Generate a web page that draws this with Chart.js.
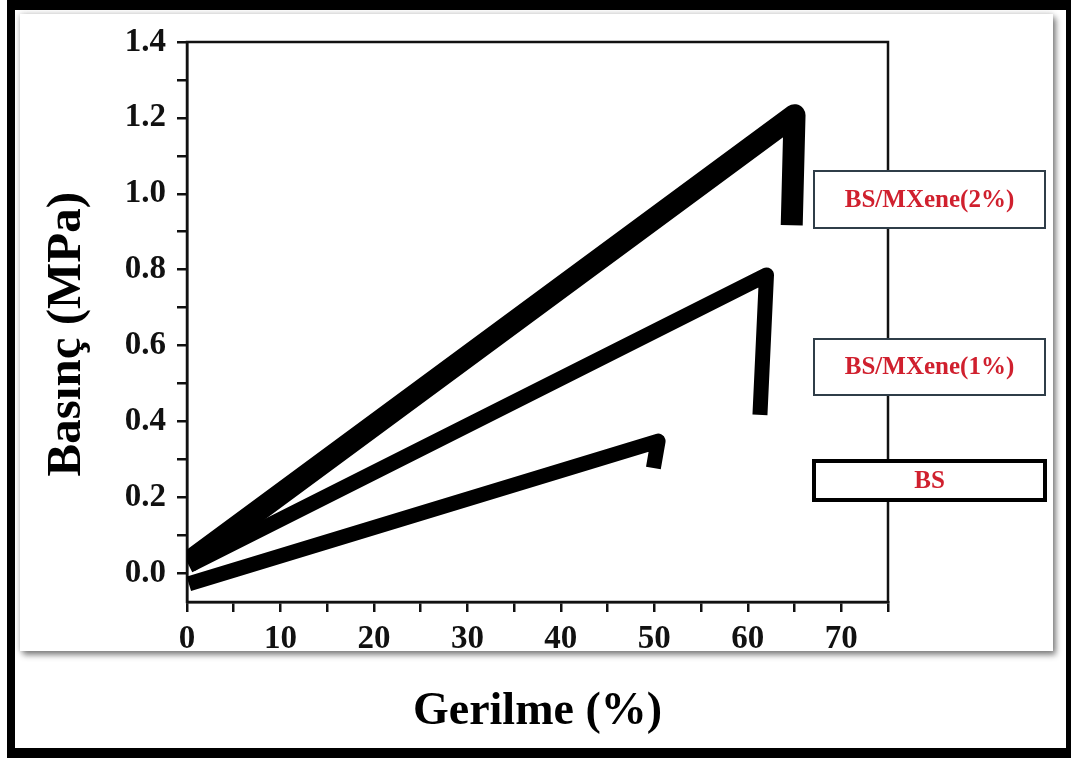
<!DOCTYPE html>
<html>
<head>
<meta charset="utf-8">
<script src="https://cdn.jsdelivr.net/npm/chart.js@4.4.1/dist/chart.umd.min.js"></script>
<style>
  html, body { margin: 0; padding: 0; background: #fff; }
  body { width: 1071px; height: 758px; position: relative; overflow: hidden; }
  .frame {
    position: absolute; left: 7px; top: 0; right: 0; bottom: 0;
    border-style: solid; border-color: #000;
    border-width: 10px 5px 10px 8px;
  }
  .panel {
    position: absolute; left: 20px; top: 14px; width: 1033px; height: 637px;
    background: #fff;
    box-shadow: 3px 4px 6px rgba(0,0,0,0.45), 0 0 6px rgba(0,0,0,0.22);
  }
  #chart { position: absolute; left: 0; top: 0; z-index: 2; }
</style>
</head>
<body>
<div class="frame"></div>
<div class="panel"></div>
<canvas id="chart" width="1071" height="758"></canvas>
<script>
// --- datos ---
const seriesNames = ['BS/MXene(2%)', 'BS/MXene(1%)', 'BS'];

const strain2 = [0.2, 65.0, 64.7];
const stress2 = [0.03, 1.207, 0.917];

const strain1 = [0.2, 62.0, 61.3];
const stress1 = [0.02, 0.786, 0.417];

const strainBS = [0.2, 50.4, 49.9];
const stressBS = [-0.028, 0.348, 0.277];

const xTitle = 'Gerilme (%)';
const yTitle = 'Basınç (MPa)';
const xTicks = [0, 10, 20, 30, 40, 50, 60, 70];      // con etiqueta
const yTicks = [0.0, 0.2, 0.4, 0.6, 0.8, 1.0, 1.2, 1.4];
const xRange = [0, 75];
const yRange = [-0.076, 1.4];

const SERIF = "'Liberation Serif', 'Times New Roman', serif";

function pts(xs, ys) {
  return xs.map((x, i) => ({ x: x, y: ys[i] }));
}

// ticks mayores + menores (a mitad de paso)
function withMinor(major, max) {
  const step = major[1] - major[0];
  const out = [];
  major.forEach(v => {
    out.push({ value: v, major: true });
    if (v + step / 2 <= max + 1e-9) out.push({ value: +(v + step / 2).toFixed(4) });
  });
  return out;
}
const isMajor = (v, list) => list.some(t => Math.abs(t - v) < 1e-6);

// marco del área (ejes superior y derecho sin ticks)
const frameBox = {
  id: 'frameBox',
  beforeDatasetsDraw(chart) {
    const { ctx, chartArea: a } = chart;
    ctx.save();
    ctx.strokeStyle = '#111';
    ctx.lineWidth = 2.5;
    ctx.strokeRect(a.left, a.top, a.right - a.left, a.bottom - a.top);
    ctx.restore();
  }
};

// cajas de leyenda a la derecha
const labelBoxes = {
  id: 'labelBoxes',
  afterDraw(chart) {
    const ctx = chart.ctx;
    const boxes = [
      { x: 814, y: 171, w: 231, h: 57, lw: 2, color: '#2f3d48' },
      { x: 814, y: 339, w: 231, h: 56, lw: 2, color: '#2f3d48' },
      { x: 814, y: 461, w: 231, h: 39, lw: 4, color: '#000' }
    ];
    ctx.save();
    boxes.forEach((b, i) => {
      ctx.fillStyle = '#fff';
      ctx.fillRect(b.x, b.y, b.w, b.h);
      ctx.strokeStyle = b.color;
      ctx.lineWidth = b.lw;
      ctx.strokeRect(b.x, b.y, b.w, b.h);
      ctx.fillStyle = '#d0202e';
      ctx.font = 'bold 25px ' + SERIF;
      ctx.textAlign = 'center';
      ctx.textBaseline = 'middle';
      ctx.fillText(seriesNames[i], b.x + b.w / 2, b.y + b.h / 2 + 1);
    });
    ctx.restore();
  }
};

const ctx = document.getElementById('chart').getContext('2d');
new Chart(ctx, {
  type: 'line',
  data: {
    datasets: [
      { label: seriesNames[0], data: pts(strain2, stress2), borderWidth: 22 },
      { label: seriesNames[1], data: pts(strain1, stress1), borderWidth: 15 },
      { label: seriesNames[2], data: pts(strainBS, stressBS), borderWidth: 15 }
    ].map(d => Object.assign(d, {
      borderColor: '#000',
      backgroundColor: '#000',
      pointRadius: 0,
      tension: 0,
      fill: false,
      borderJoinStyle: 'round',
      borderCapStyle: 'butt'
    }))
  },
  options: {
    responsive: false,
    animation: false,
    events: [],
    layout: { padding: { top: 42, right: 183, left: 0, bottom: 0 } },
    plugins: { legend: { display: false }, tooltip: { enabled: false } },
    scales: {
      x: {
        type: 'linear',
        min: xRange[0], max: xRange[1],
        afterFit(s) { s.height = 156; },
        afterBuildTicks(s) { s.ticks = withMinor(xTicks, xRange[1]); },
        border: { display: true, color: '#111', width: 2.5 },
        grid: { drawOnChartArea: false, drawTicks: true, tickLength: 10, color: '#111', lineWidth: 2.5 },
        ticks: {
          autoSkip: false, maxRotation: 0, padding: 8,
          color: '#111',
          font: { family: SERIF, size: 33, weight: 'bold' },
          callback: v => (isMajor(v, xTicks) ? String(Math.round(v)) : '')
        },
        title: {
          display: true, text: xTitle, color: '#000',
          font: { family: SERIF, size: 46, weight: 'bold' },
          padding: { top: 0, bottom: 18 }
        }
      },
      y: {
        type: 'linear',
        min: yRange[0], max: yRange[1],
        afterFit(s) { s.width = 187; },
        afterBuildTicks(s) { s.ticks = withMinor(yTicks, yRange[1]); },
        border: { display: true, color: '#111', width: 2.5 },
        grid: { drawOnChartArea: false, drawTicks: true, tickLength: 10, color: '#111', lineWidth: 2.5 },
        ticks: {
          autoSkip: false, padding: 11,
          color: '#111',
          font: { family: SERIF, size: 33, weight: 'bold' },
          callback: v => (isMajor(v, yTicks) ? v.toFixed(1) : '')
        },
        title: {
          display: true, text: yTitle + '  ', color: '#000',
          font: { family: SERIF, size: 49, weight: 'bold' },
          padding: { top: 38, bottom: 0 }
        }
      }
    }
  },
  plugins: [frameBox, labelBoxes]
});
</script>
</body>
</html>
